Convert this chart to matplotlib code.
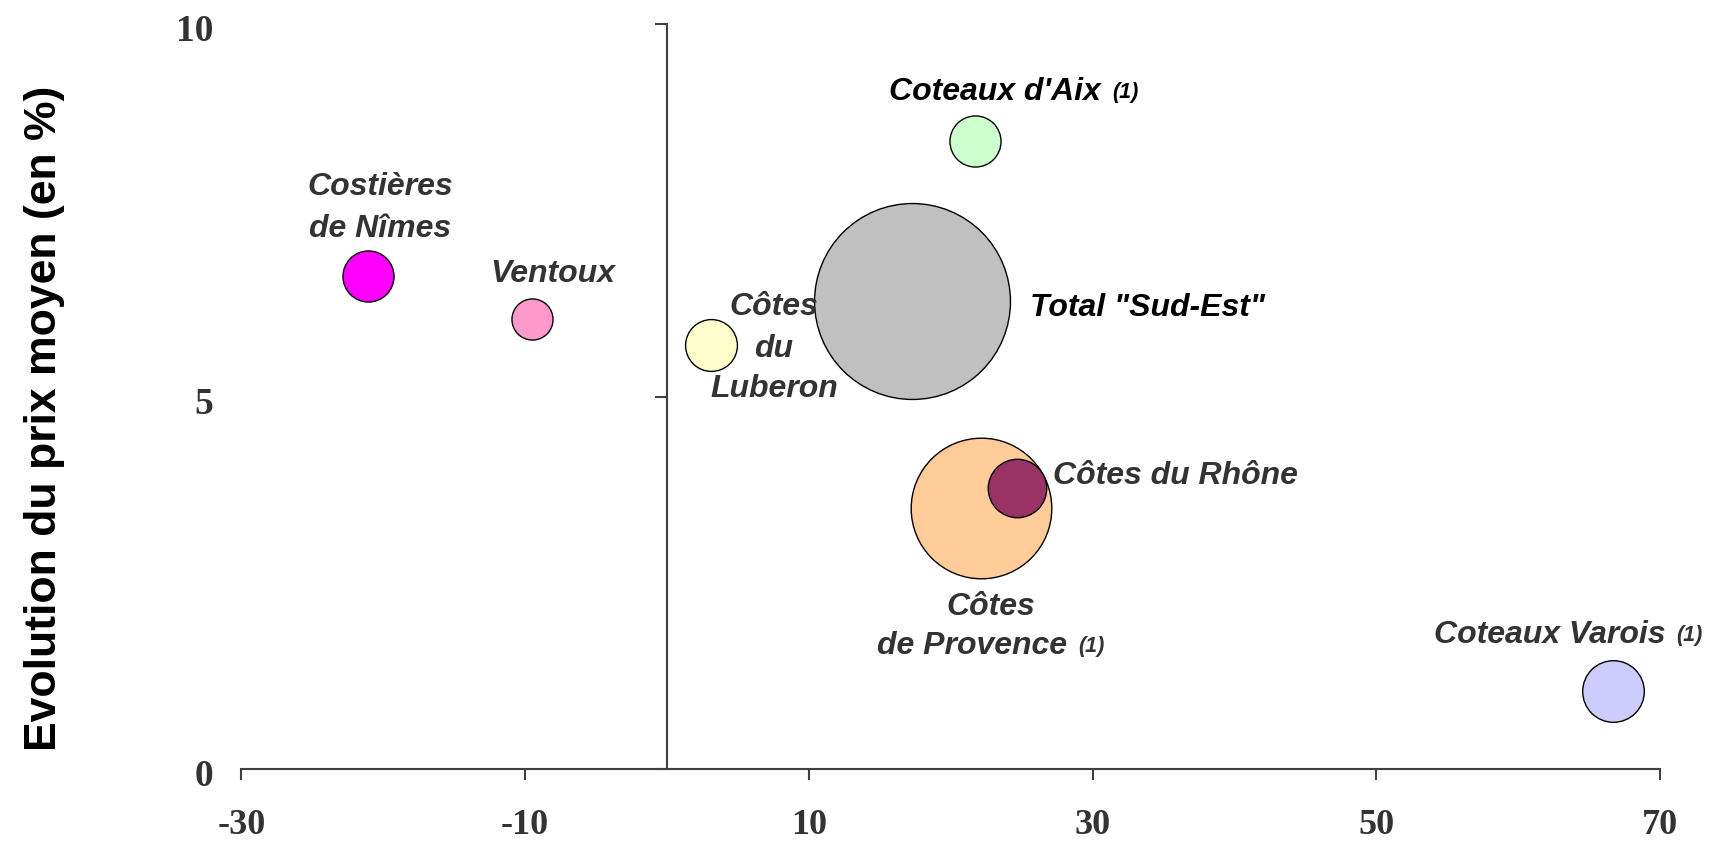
import matplotlib
matplotlib.use("Agg")
import matplotlib.pyplot as plt

# Appellations du Sud-Est
names = ["Costières de Nîmes", "Ventoux", "Côtes du Luberon", "Coteaux d'Aix",
         'Total "Sud-Est"', "Côtes de Provence", "Côtes du Rhône", "Coteaux Varois"]
# evolution des volumes (en %)
vol_evol = [-21.1, -9.5, 3.1, 21.7, 17.3, 22.1, 24.7, 66.7]
# evolution du prix moyen (en %)
prix_evol = [6.62, 6.04, 5.70, 8.43, 6.28, 3.51, 3.77, 1.05]
# poids de chaque appellation (Total "Sud-Est" = 100)
poids = [6.8, 4.4, 7.0, 6.8, 100, 51.5, 8.9, 9.9]
couleurs = ["#FF00FF", "#FF99CC", "#FFFFCC", "#CCFFCC",
            "#C0C0C0", "#FFCC99", "#993366", "#CCCCFF"]
# appellations avec renvoi (1)
renvoi = ["Coteaux d'Aix", "Côtes de Provence", "Coteaux Varois"]

x_ticks = [-30, -10, 10, 30, 50, 70]
y_ticks = [0, 5, 10]
y_title = "Evolution du prix moyen (en %)"

# placement des etiquettes : alignement, couleur, lignes (texte, dx, dy en points)
etiquettes = {
    "Costières de Nîmes": ("center", "#333333", [("Costières", 9, 59.0), ("de Nîmes", 9, 29.2)]),
    "Ventoux": ("center", "#333333", [("Ventoux", 14.8, 27.4)]),
    "Côtes du Luberon": ("center", "#333333", [("Côtes", 45.4, 22.0), ("du", 45.4, -8.3),
                                                ("Luberon", 45.4, -37.1)]),
    "Coteaux d'Aix": ("left", "black", [("Coteaux d'Aix", -61.7, 30.5)]),
    'Total "Sud-Est"': ("left", "black", [('Total "Sud-Est"', 84.7, -9.6)]),
    "Côtes de Provence": ("center", "#333333", [("Côtes", 7.4, -76.5), ("de Provence", -5.9, -104.5)]),
    "Côtes du Rhône": ("left", "#333333", [("Côtes du Rhône", 25.6, 3.7)]),
    "Coteaux Varois": ("left", "#333333", [("Coteaux Varois", -129.0, 35.6)]),
}

SANS = ["Liberation Sans", "DejaVu Sans"]
SERIF = ["Liberation Serif", "DejaVu Serif"]
AXIS_COLOR = "#404040"
TICK_COLOR = "#333333"
SIZE_SCALE = 199.0

fig = plt.figure(figsize=(17.11, 8.45), dpi=100)
ax = fig.add_axes([0.1411, 0.0882, 0.8291, 0.8820])

# les grosses bulles d'abord pour garder les petites visibles
order = sorted(range(len(names)), key=lambda i: -poids[i])
for i in order:
    ax.scatter(vol_evol[i], prix_evol[i], s=poids[i] * SIZE_SCALE, c=couleurs[i],
               edgecolors="black", linewidths=1.0, zorder=2 + order.index(i), clip_on=False)

for i, name in enumerate(names):
    ha, color, lines = etiquettes[name]
    last = None
    for text, dx, dy in lines:
        last = ax.annotate(text, xy=(vol_evol[i], prix_evol[i]), xytext=(dx, dy),
                           textcoords="offset points", ha=ha, va="baseline",
                           fontfamily=SANS, fontsize=23, fontweight="bold",
                           fontstyle="italic", color=color, zorder=20)
    if name in renvoi:
        ax.annotate("(1)", xy=(1, 0), xycoords=last, xytext=(8, 6.5),
                    textcoords="offset points", ha="left", va="baseline",
                    fontfamily=SANS, fontsize=15.5, fontweight="bold",
                    fontstyle="italic", color=color, zorder=20)

ax.set_xlim(-30, 70)
ax.set_ylim(0, 10)

for side in ["top", "right"]:
    ax.spines[side].set_visible(False)
ax.spines["left"].set_position(("data", 0))
for side in ["left", "bottom"]:
    ax.spines[side].set_color(AXIS_COLOR)
    ax.spines[side].set_linewidth(1.5)

ax.set_xticks(x_ticks)
ax.set_xticklabels([str(t) for t in x_ticks], fontfamily=SERIF, fontsize=26,
                   fontweight="bold", color=TICK_COLOR)
ax.tick_params(axis="x", direction="out", length=8, width=1.5, color=AXIS_COLOR, pad=20)

ax.set_yticks(y_ticks)
ax.set_yticklabels([])
ax.tick_params(axis="y", direction="out", length=8.5, width=1.5, color=AXIS_COLOR)
# graduations de l'axe des prix a gauche du graphique
for v in y_ticks:
    ax.annotate(str(v), xy=(-0.0197, v), xycoords=ax.get_yaxis_transform(),
                xytext=(0, -4.6), textcoords="offset points", ha="right", va="center",
                fontfamily=SERIF, fontsize=27, fontweight="bold", color=TICK_COLOR,
                annotation_clip=False)

fig.text(0.026, 0.5053, y_title, rotation=90, ha="center", va="center",
         fontfamily=SANS, fontsize=32, fontweight="bold", color="black")

fig.savefig("out.png", dpi=100)
